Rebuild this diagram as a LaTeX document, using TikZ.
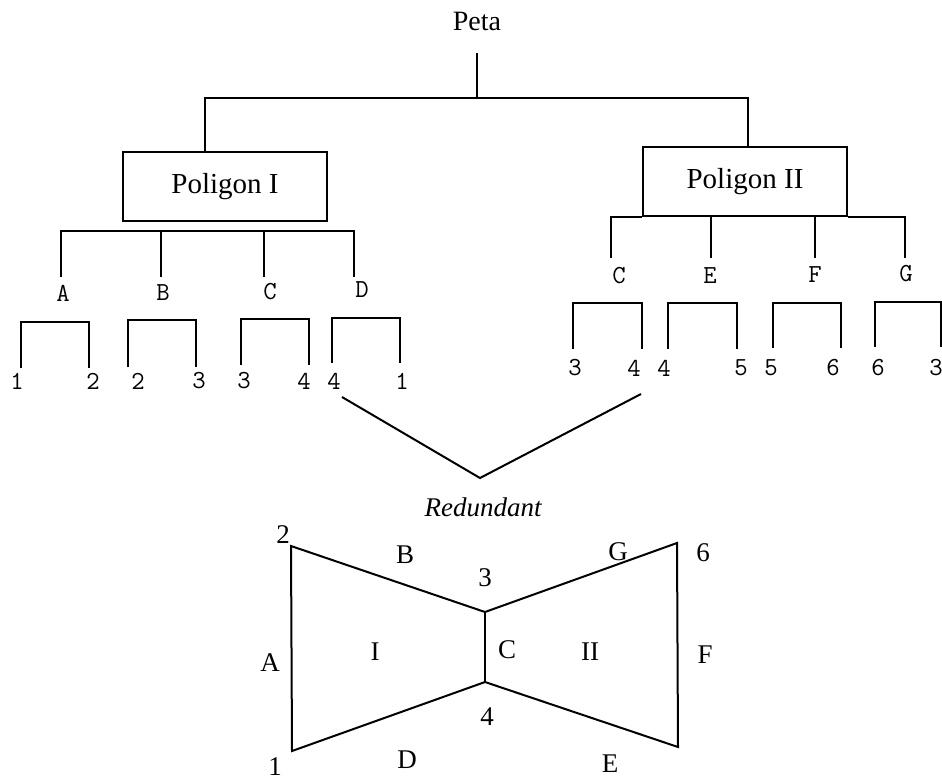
\documentclass[tikz,border=0pt]{standalone}
\usepackage{fontspec}
\setmainfont{Liberation Serif}
\begin{document}
\begin{tikzpicture}[x=1pt,y=-1pt,line width=2pt,
  title/.style={font=\fontsize{28}{30}\selectfont,inner sep=0pt},
  polybox/.style={draw,line width=2pt,font=\fontsize{29}{31}\selectfont,
    minimum width=204,minimum height=69,inner sep=0pt},
  edgelbl/.style={font=\ttfamily\fontsize{26}{28}\selectfont,inner sep=0pt},
  vertlbl/.style={font=\ttfamily\fontsize{26}{28}\selectfont,inner sep=0pt},
  shapelbl/.style={font=\fontsize{27}{29}\selectfont,inner sep=0pt},
  bracket/.style={line width=2.3pt}]
\useasboundingbox (0,0) rectangle (942,780);

% ---- hierarchy: map -> polygons ----
\node[title] (peta) at (477,21) {Peta};
\node[polybox] (p1) at (225,186.5) {Poligon I};
\node[polybox] (p2) at (745,181.5) {Poligon II};

\coordinate (rootdrop) at (477,53);
\coordinate (rootbar) at (477,99);
\draw (rootdrop) -- (rootbar);
\draw ([xshift=-20pt]p1.north) -- ++(0,-53) -| ([xshift=3pt]p2.north);

% ---- polygon I: edges A-D ----
\node[edgelbl] (a1) at (63,293) {A};
\node[edgelbl] (b1) at (163,293) {B};
\node[edgelbl] (c1) at (270,292) {C};
\node[edgelbl] (d1) at (362,290) {D};
\draw (61,277) -- (61,231) -- (354,231) -- (354,277);
\draw (161,231) -- (161,277);
\draw (264,231) -- (264,277);

% ---- polygon II: edges C, E, F, G ----
\node[edgelbl] (c2) at (619,276) {C};
\node[edgelbl] (e2) at (710,276) {E};
\node[edgelbl] (f2) at (815,275) {F};
\node[edgelbl] (g2) at (906,274) {G};
\draw (611,258) |- (p2.south west);
\draw (p2.south east) -| (905,258);
\draw (711,216) -- (711,258);
\draw (815,216) -- (815,258);

% ---- vertex pairs of each edge ----
\foreach \xa/\xb/\yt/\yb/\la/\lb/\na/\nb/\xla/\xlb in {
   21/89/322/368/1/2/va1/vb1/17/93,
   128/196/320/367/2/3/va2/vb2/138/199,
   241/309/319/365/3/4/va3/vb3/244/304,
   332/400/318/363/4/1/va4/vb4/334/402}{
  \node[vertlbl] (\na) at (\xla,381) {\la};
  \node[vertlbl] (\nb) at (\xlb,381) {\lb};
  \draw[bracket] (\xa,\yb) -- (\xa,\yt) -- (\xb,\yt) -- (\xb,\yb);
}
\foreach \xa/\xb/\yt/\yb/\la/\lb/\na/\nb/\xla/\xlb in {
   573/642/303/349/3/4/wa1/wb1/575/634,
   668/737/303/349/4/5/wa2/wb2/664/741,
   773/841/303/348/5/6/wa3/wb3/771/833,
   875/941/302/347/6/3/wa4/wb4/878/936}{
  \node[vertlbl] (\na) at (\xla,368) {\la};
  \node[vertlbl] (\nb) at (\xlb,368) {\lb};
  \draw[bracket] (\xa,\yb) -- (\xa,\yt) -- (\xb,\yt) -- (\xb,\yb);
}

% ---- shared edge ----
\coordinate (vl) at (342,397);
\coordinate (vm) at (480,478);
\coordinate (vr) at (641,394);
\draw (vl) -- (vm) -- (vr);
\node[shapelbl,font=\itshape\fontsize{27}{29}\selectfont] (red) at (483,507) {Redundant};

% ---- the two polygons ----
\coordinate (q2) at (291,546);
\coordinate (q3) at (485,612);
\coordinate (q6) at (677,543);
\coordinate (q5) at (678,747);
\coordinate (q4) at (485,682);
\coordinate (q1) at (292,751);
\draw[line join=miter] (q2) -- (q3) -- (q6) -- (q5) -- (q4) -- (q1) -- cycle;
\draw (q3) -- (q4);

\node[shapelbl] (n2) at (283,535) {2};
\node[shapelbl] (eB) at (405,555) {B};
\node[shapelbl] (n3) at (485,578) {3};
\node[shapelbl] (eG) at (618,552) {G};
\node[shapelbl] (n6) at (703,553) {6};
\node[shapelbl] (eA) at (270,663) {A};
\node[shapelbl] (pI) at (375,652) {I};
\node[shapelbl] (eC) at (507,650) {C};
\node[shapelbl] (pII) at (590,652) {II};
\node[shapelbl] (eF) at (705,655) {F};
\node[shapelbl] (n4) at (487,717) {4};
\node[shapelbl] (eD) at (407,760) {D};
\node[shapelbl] (n1) at (275,767) {1};
\node[shapelbl] (eE) at (610,764) {E};
\end{tikzpicture}
\end{document}
